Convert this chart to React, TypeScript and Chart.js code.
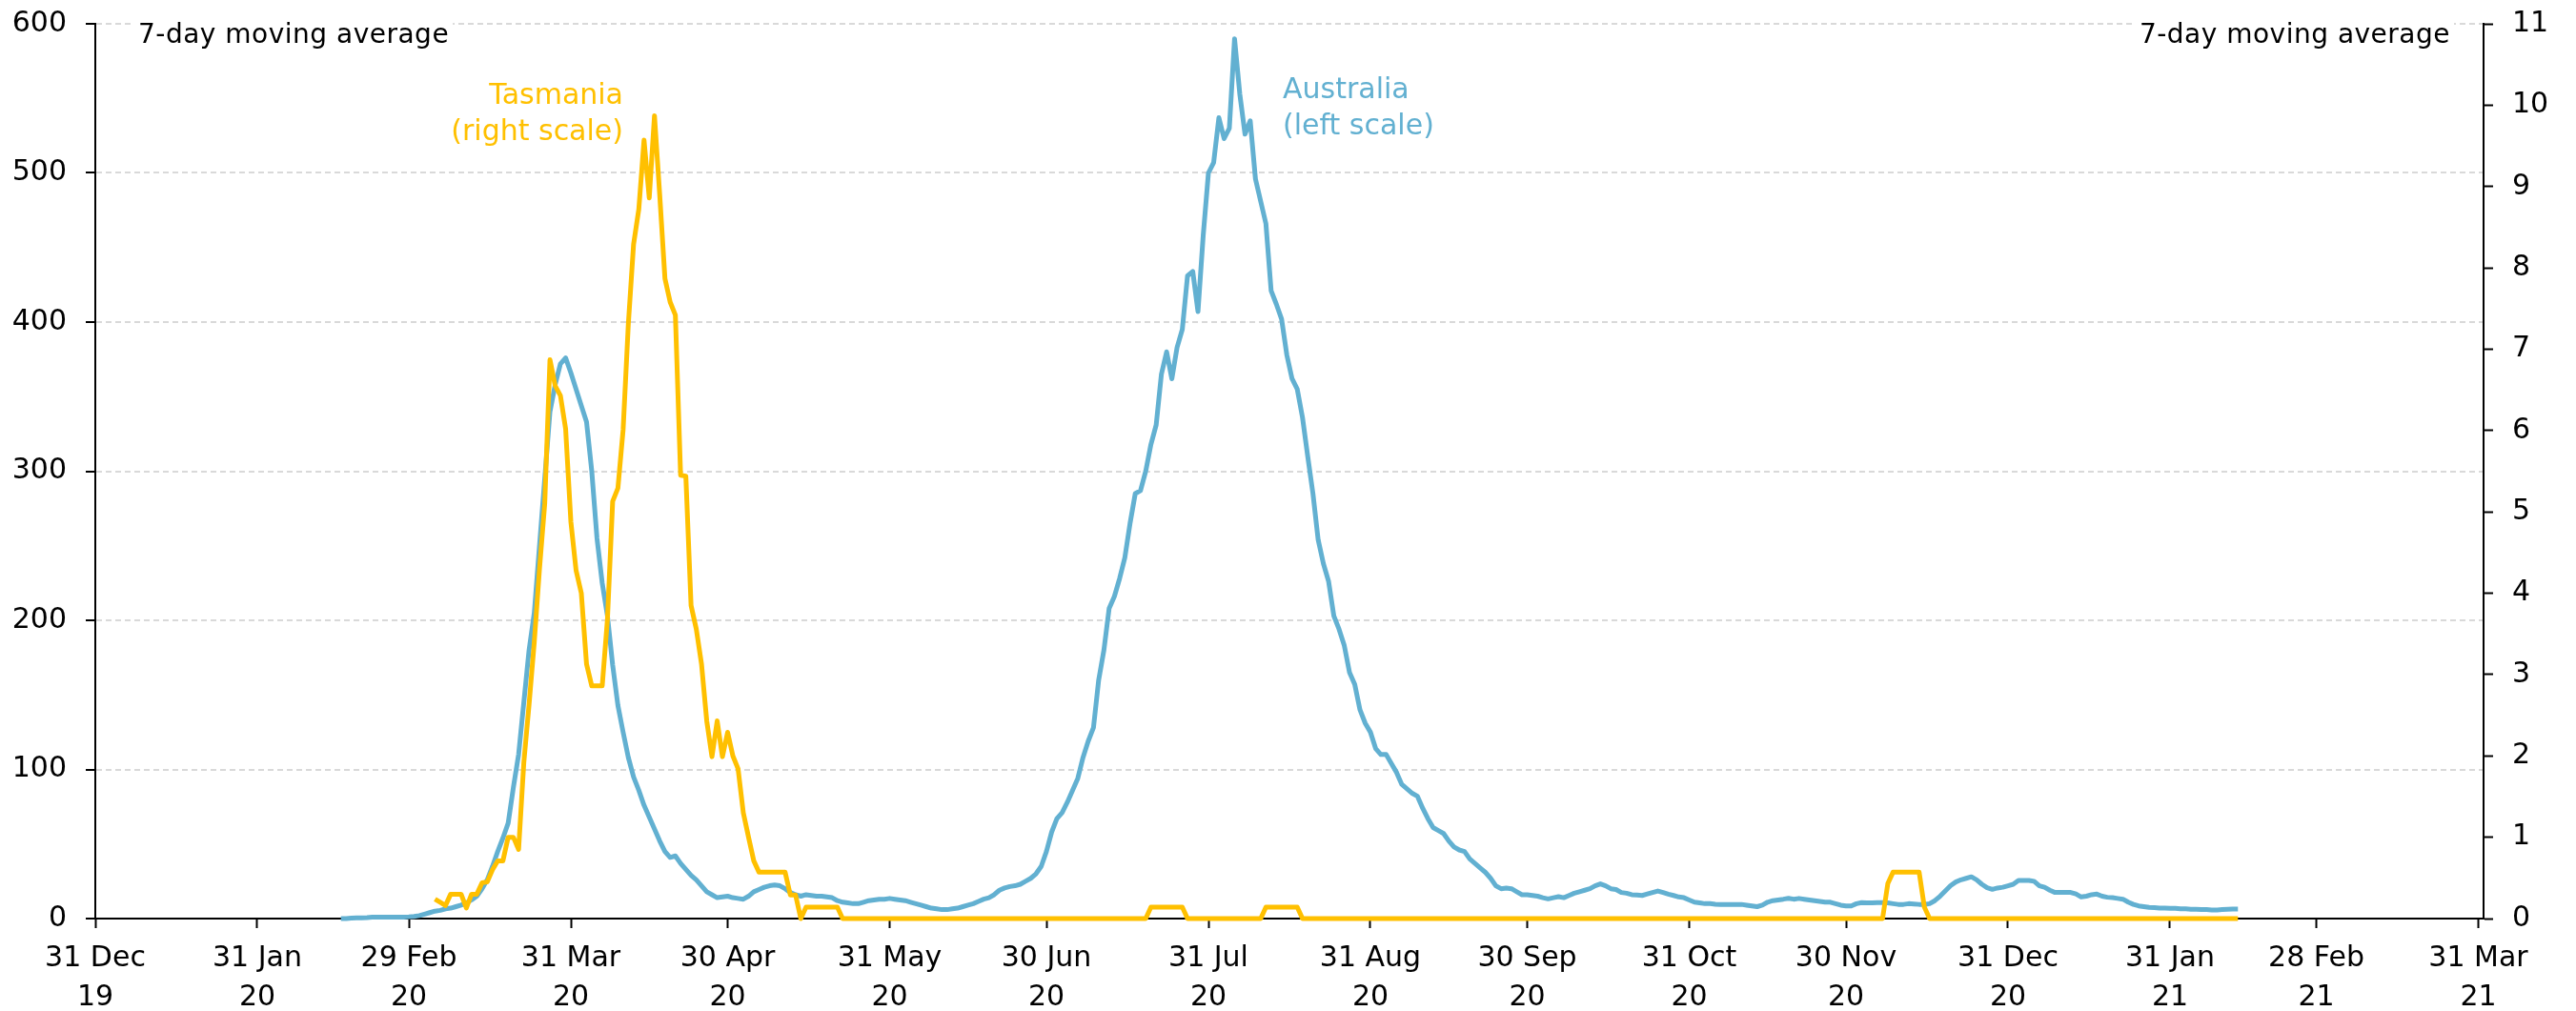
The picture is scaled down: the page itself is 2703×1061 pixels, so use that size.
import { useEffect, useRef } from "react";
import { Chart, registerables } from "chart.js";

Chart.register(...registerables);

// ---------- data ----------
const AXIS_ORIGIN = "2019-12-31";
const AXIS_END = "2021-04-01";
const SERIES_START = "2020-02-16"; // first daily value of both series

const tickDates = [
  "2019-12-31", "2020-01-31", "2020-02-29", "2020-03-31", "2020-04-30", "2020-05-31",
  "2020-06-30", "2020-07-31", "2020-08-31", "2020-09-30", "2020-10-31", "2020-11-30",
  "2020-12-31", "2021-01-31", "2021-02-28", "2021-03-31",
];
const tickLabels = [
  ["31 Dec", "19"], ["31 Jan", "20"], ["29 Feb", "20"], ["31 Mar", "20"], ["30 Apr", "20"],
  ["31 May", "20"], ["30 Jun", "20"], ["31 Jul", "20"], ["31 Aug", "20"], ["30 Sep", "20"],
  ["31 Oct", "20"], ["30 Nov", "20"], ["31 Dec", "20"], ["31 Jan", "21"], ["28 Feb", "21"],
  ["31 Mar", "21"],
];

// Australia, 7-day moving average, daily from SERIES_START (left scale)
const australia = [
  0, 0, 0.3, 0.5, 0.5, 0.7, 1, 1, 1, 1,
  1, 1, 1, 1.2, 1.5, 2, 3, 4, 5, 5.5,
  6.5, 7, 8, 9, 10.5, 12.5, 15, 20, 26, 35,
  45, 54, 64, 88, 110, 145, 180, 205, 250, 295,
  340, 358, 372, 376, 366, 355, 344, 333, 300, 255,
  225, 203, 170, 143, 125, 108, 95, 86, 76, 68,
  60, 52, 45, 41, 42, 37, 33, 29, 26, 22,
  18, 16, 14, 14.5, 15, 14, 13.5, 13, 15, 18,
  19.5, 21, 22, 22.5, 22, 20, 17.5, 16, 15, 16,
  15.5, 15, 15, 14.5, 14, 12, 11, 10.5, 10, 10,
  11, 12, 12.5, 13, 13, 13.5, 13, 12.5, 12, 11,
  10, 9, 8, 7, 6.5, 6, 6, 6.5, 7, 8,
  9, 10, 11.5, 13, 14, 16, 19, 20.5, 21.5, 22,
  23, 25, 27, 30, 35, 45, 58, 67, 71, 78,
  86, 94, 108, 119, 128, 160, 180, 208, 216, 228,
  242, 265, 285, 287, 300, 318, 331, 365, 380, 362,
  383, 395, 431, 434, 407, 458, 500, 507, 537, 523,
  530, 590, 553, 526, 535, 496, 481, 466, 421, 412,
  402, 378, 362, 355, 336, 310, 285, 254, 238, 226,
  203, 194, 183, 165, 157, 140, 131, 125, 114, 110,
  110, 104, 98, 90, 87, 84, 82, 74, 67, 61,
  59, 57, 52, 48, 46, 45, 40, 37, 34, 31,
  27, 22, 20, 20.5, 20, 18, 16, 16, 15.5, 15,
  14, 13.2, 14, 14.7, 14, 15.5, 17, 18, 19, 20,
  22, 23.3, 22, 20, 19.5, 17.5, 17, 16, 15.8, 15.5,
  16.5, 17.5, 18.5, 17.5, 16.4, 15.5, 14.5, 14, 12.5, 11,
  10.5, 10, 10, 9.6, 9.4, 9.4, 9.5, 9.4, 9.5, 9,
  8.5, 8, 9, 11, 12, 12.5, 13, 13.6, 13, 13.5,
  13, 12.5, 12, 11.5, 11, 11, 10, 9, 8.5, 8.5,
  10, 10.7, 10.5, 10.5, 10.7, 10.7, 10.5, 10, 9.5, 9.5,
  10, 9.8, 9.5, 9.4, 10, 12, 15, 18.5, 22, 24.5,
  26, 27, 28, 26, 23, 20.7, 19.6, 20.5, 21, 22,
  23, 25.6, 25.6, 25.6, 25, 22, 21, 19, 17.5, 17.5,
  17.5, 17.5, 16.5, 14.5, 15, 16, 16.4, 15, 14.3, 14,
  13.5, 13, 11, 9.5, 8.5, 8, 7.5, 7.3, 7, 7,
  6.8, 6.8, 6.5, 6.5, 6.3, 6.2, 6, 6, 5.8, 5.8,
  6, 6.2, 6.4, 6.4,
];

// Tasmania, 7-day moving average, daily from SERIES_START (right scale)
const tasmania = [
  null, null, null, null, null, null, null, null, null, null,
  null, null, null, null, null, null, null, null,
  0.24, 0.2, 0.16, 0.3, 0.3, 0.3, 0.13, 0.3, 0.3, 0.44,
  0.45, 0.6, 0.71, 0.71, 1.0, 1.0, 0.85, 1.92, 2.63, 3.4,
  4.3, 5.1, 6.87, 6.55, 6.43, 6.02, 4.88, 4.28, 4.0, 3.13,
  2.86, 2.86, 2.86, 3.68, 5.13, 5.29, 6.01, 7.31, 8.29, 8.72,
  9.57, 8.86, 9.87, 8.9, 7.87, 7.58, 7.42, 5.45, 5.44, 3.85,
  3.56, 3.13, 2.43, 1.99, 2.43, 1.99, 2.29, 2.0, 1.84, 1.3,
  1.0, 0.71, 0.57, 0.57, 0.57, 0.57, 0.57, 0.57, 0.29, 0.29,
  0, 0.14, 0.14, 0.14, 0.14, 0.14, 0.14, 0.14, 0, 0,
  0, 0, 0, 0, 0, 0, 0, 0, 0, 0,
  0, 0, 0, 0, 0, 0, 0, 0, 0, 0,
  0, 0, 0, 0, 0, 0, 0, 0, 0, 0,
  0, 0, 0, 0, 0, 0, 0, 0, 0, 0,
  0, 0, 0, 0, 0, 0, 0, 0, 0, 0,
  0, 0, 0, 0, 0, 0, 0, 0.14, 0.14, 0.14,
  0.14, 0.14, 0.14, 0.14, 0, 0, 0, 0, 0, 0,
  0, 0, 0, 0, 0, 0, 0, 0, 0, 0.14,
  0.14, 0.14, 0.14, 0.14, 0.14, 0.14, 0, 0, 0, 0,
  0, 0, 0, 0, 0, 0, 0, 0, 0, 0,
  0, 0, 0, 0, 0, 0, 0, 0, 0, 0,
  0, 0, 0, 0, 0, 0, 0, 0, 0, 0,
  0, 0, 0, 0, 0, 0, 0, 0, 0, 0,
  0, 0, 0, 0, 0, 0, 0, 0, 0, 0,
  0, 0, 0, 0, 0, 0, 0, 0, 0, 0,
  0, 0, 0, 0, 0, 0, 0, 0, 0, 0,
  0, 0, 0, 0, 0, 0, 0, 0, 0, 0,
  0, 0, 0, 0, 0, 0, 0, 0, 0, 0,
  0, 0, 0, 0, 0, 0, 0, 0, 0, 0,
  0, 0, 0, 0, 0, 0, 0, 0, 0.43, 0.57,
  0.57, 0.57, 0.57, 0.57, 0.57, 0.14, 0, 0, 0, 0,
  0, 0, 0, 0, 0, 0, 0, 0, 0, 0,
  0, 0, 0, 0, 0, 0, 0, 0, 0, 0,
  0, 0, 0, 0, 0, 0, 0, 0, 0, 0,
  0, 0, 0, 0, 0, 0, 0, 0, 0, 0,
  0, 0, 0, 0, 0, 0, 0, 0, 0, 0,
  0, 0, 0, 0, 0, 0,
];

const leftAxis = { min: 0, max: 600, step: 100 };
const rightAxis = { min: 0, max: 11, step: 1 };

// ---------- helpers ----------
function dayOf(iso: string): number {
  const [y, m, d] = iso.split("-").map(Number);
  const [oy, om, od] = AXIS_ORIGIN.split("-").map(Number);
  return Math.round((Date.UTC(y, m - 1, d) - Date.UTC(oy, om - 1, od)) / 86400000);
}

const BLUE = "#62B0D1";
const GOLD = "#FFC000";
const FONT = "'DejaVu Sans', sans-serif";

const annotationPlugin = {
  id: "rbaAnnotations",
  afterDraw(chart: any) {
    const { ctx, chartArea } = chart;
    ctx.save();

    // unit labels at the top, with a white background over the grid line
    ctx.font = `28px ${FONT}`;
    (ctx as any).letterSpacing = "0.5px";
    ctx.textBaseline = "alphabetic";
    const unit = "7-day moving average";
    const w = ctx.measureText(unit).width;
    const baseY = chartArea.top + 20;
    const lx = chartArea.left + 45;
    const rx = chartArea.right - 35 - w;
    ctx.fillStyle = "#ffffff";
    ctx.fillRect(lx - 4, chartArea.top - 6, w + 8, 34);
    ctx.fillRect(rx - 4, chartArea.top - 6, w + 8, 34);
    ctx.fillStyle = "#000000";
    ctx.textAlign = "left";
    ctx.fillText(unit, lx, baseY);
    ctx.fillText(unit, rx, baseY);

    (ctx as any).letterSpacing = "0px";
    ctx.font = `30px ${FONT}`;

    // Tasmania label
    ctx.fillStyle = GOLD;
    ctx.textAlign = "right";
    ctx.fillText("Tasmania", chartArea.left + 554, chartArea.top + 84);
    ctx.fillText("(right scale)", chartArea.left + 554, chartArea.top + 122);

    // Australia label
    ctx.fillStyle = BLUE;
    ctx.textAlign = "left";
    ctx.fillText("Australia", chartArea.left + 1246, chartArea.top + 78);
    ctx.fillText("(left scale)", chartArea.left + 1246, chartArea.top + 116);

    ctx.restore();
  },
};

export default function App() {
  const ref = useRef<HTMLCanvasElement>(null);

  useEffect(() => {
    const start = dayOf(SERIES_START);
    const tickDays = tickDates.map(dayOf);
    const ausData = australia.map((v, i) => ({ x: start + i, y: v }));
    const tasData = tasmania.map((v, i) => ({ x: start + i, y: v }));

    Chart.defaults.font.family = FONT;

    const chart = new Chart(ref.current as HTMLCanvasElement, {
      type: "line",
      data: {
        datasets: [
          {
            label: "Tasmania",
            data: tasData as any,
            yAxisID: "y1",
            borderColor: GOLD,
            backgroundColor: GOLD,
            borderWidth: 5,
            pointRadius: 0,
            tension: 0,
            borderJoinStyle: "round",
            spanGaps: false,
            clip: false as any,
          },
          {
            label: "Australia",
            data: ausData as any,
            yAxisID: "y",
            borderColor: BLUE,
            backgroundColor: BLUE,
            borderWidth: 5,
            pointRadius: 0,
            tension: 0,
            borderJoinStyle: "round",
            clip: false as any,
          },
        ],
      },
      options: {
        responsive: false,
        animation: false,
        devicePixelRatio: 1,
        parsing: false as any,
        normalized: true,
        layout: { padding: { top: 25, left: 0, right: 0, bottom: 0 } },
        plugins: {
          legend: { display: false },
          tooltip: { enabled: false },
        },
        scales: {
          x: {
            type: "linear",
            position: "bottom",
            min: dayOf(AXIS_ORIGIN),
            max: dayOf(AXIS_END),
            afterBuildTicks: (scale: any) => {
              scale.ticks = tickDays.map((value) => ({ value }));
            },
            afterFit: (scale: any) => {
              scale.height = 97;
            },
            ticks: {
              autoSkip: false,
              maxRotation: 0,
              minRotation: 0,
              padding: 12,
              color: "#000",
              font: { family: FONT, size: 30, lineHeight: 1.37 },
              callback: (_v: any, i: number) => tickLabels[i],
            },
            grid: {
              display: true,
              drawOnChartArea: false,
              drawTicks: true,
              tickLength: 10,
              tickColor: "#000",
              tickWidth: 2,
            },
            border: { display: true, color: "#000", width: 2 },
          },
          y: {
            type: "linear",
            position: "left",
            min: leftAxis.min,
            max: leftAxis.max,
            afterFit: (scale: any) => {
              scale.width = 100;
              scale.paddingTop = 0;
              scale.paddingBottom = 0;
            },
            ticks: {
              stepSize: leftAxis.step,
              padding: 20,
              color: "#000",
              font: { family: FONT, size: 30 },
            },
            grid: {
              color: "#d9d9d9",
              lineWidth: 2,
              drawTicks: true,
              tickLength: 10,
              tickColor: "#000",
              tickWidth: 2,
              tickBorderDash: [],
            },
            border: { display: true, color: "#000", width: 2, dash: [6, 4] },
          },
          y1: {
            type: "linear",
            position: "right",
            min: rightAxis.min,
            max: rightAxis.max,
            afterFit: (scale: any) => {
              scale.width = 97;
              scale.paddingTop = 0;
              scale.paddingBottom = 0;
            },
            ticks: {
              stepSize: rightAxis.step,
              padding: 20,
              color: "#000",
              font: { family: FONT, size: 30 },
            },
            grid: {
              drawOnChartArea: false,
              drawTicks: true,
              tickLength: 10,
              tickColor: "#000",
              tickWidth: 2,
            },
            border: { display: true, color: "#000", width: 2 },
          },
        },
      },
      plugins: [annotationPlugin],
    });

    return () => chart.destroy();
  }, []);

  return (
    <div
      style={{
        position: "fixed",
        left: 0,
        top: 0,
        width: 2703,
        height: 1061,
        background: "#ffffff",
      }}
    >
      <canvas
        ref={ref}
        width={2703}
        height={1061}
        style={{ width: 2703, height: 1061, display: "block" }}
      />
    </div>
  );
}
